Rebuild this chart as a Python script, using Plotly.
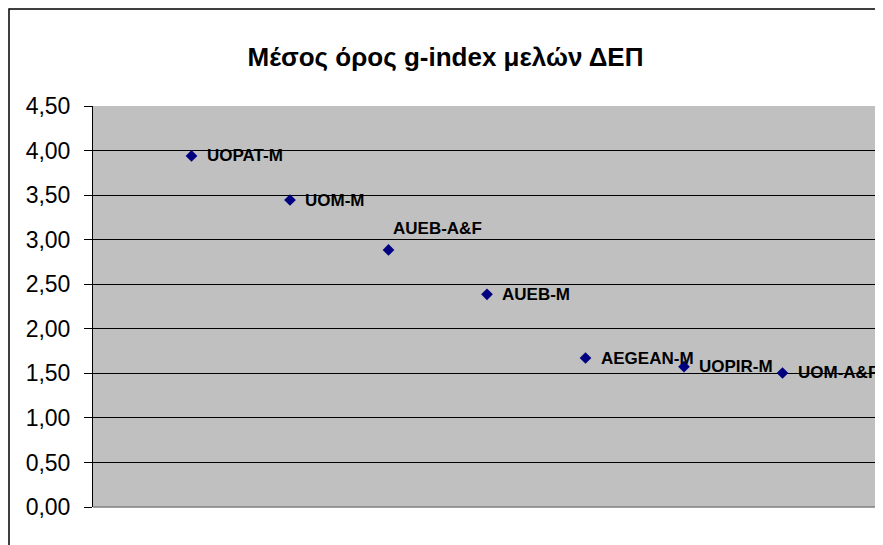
import plotly.graph_objects as go

# Data
labels = ["UOPAT-M", "UOM-M", "AUEB-A&F", "AUEB-M", "AEGEAN-M", "UOPIR-M", "UOM-A&F"]
x_pos = [1, 2, 3, 4, 5, 6, 7]
g_index = [3.94, 3.445, 2.885, 2.387, 1.672, 1.575, 1.504]
label_above = ["AUEB-A&F"]

y_ticks = [0, 0.5, 1, 1.5, 2, 2.5, 3, 3.5, 4, 4.5]
y_tick_text = ["0,00", "0,50", "1,00", "1,50", "2,00", "2,50", "3,00", "3,50", "4,00", "4,50"]

fig = go.Figure()
fig.add_trace(go.Scatter(
    x=x_pos, y=g_index, mode="markers",
    marker=dict(symbol="diamond", size=9, color="#000080"),
    hoverinfo="text", text=labels, showlegend=False,
))

for lab, xv, yv in zip(labels, x_pos, g_index):
    above = lab in label_above
    fig.add_annotation(
        x=xv, y=yv, text="<b>" + lab + "</b>", showarrow=False,
        xanchor="left", yanchor="middle",
        xshift=2 if above else 13, yshift=21 if above else 0,
        font=dict(family="Liberation Sans, Arial", size=17, color="#000000"),
    )

# plot-area border (gray, bottom and right) and chart outer border (black)
fig.add_shape(type="path", xref="paper", yref="paper",
              path="M 0,0 L 1,0 L 1,1", line=dict(color="#808080", width=1.5))
fig.add_shape(type="path", xref="paper", yref="paper",
              path="M -0.1066,-0.2 L -0.1066,1.2419 L 1.05,1.2419",
              line=dict(color="#000000", width=1.5))

fig.update_layout(
    width=875, height=537,
    margin=dict(l=85, r=2, t=98, b=38),
    paper_bgcolor="#FFFFFF", plot_bgcolor="#C0C0C0",
    title=dict(text="<b>Μέσος όρος g-index μελών ΔΕΠ</b>", x=0.5, xanchor="center",
               xref="container", y=0.909, yanchor="middle", yref="container",
               font=dict(family="Liberation Sans, Arial", size=26, color="#000000")),
    xaxis=dict(range=[0, 8], showticklabels=False, showgrid=False, zeroline=False,
               ticks="", showline=False, fixedrange=True),
    yaxis=dict(range=[0, 4.5], tickmode="array", tickvals=y_ticks, ticktext=y_tick_text,
               showgrid=True, gridcolor="#000000", gridwidth=1, zeroline=False,
               showline=True, linecolor="#000000", linewidth=1,
               ticks="outside", ticklen=8, tickcolor="#000000", ticklabelstandoff=9,
               tickfont=dict(family="Liberation Sans, Arial", size=23, color="#000000")),
)

fig.write_html("out.html")
